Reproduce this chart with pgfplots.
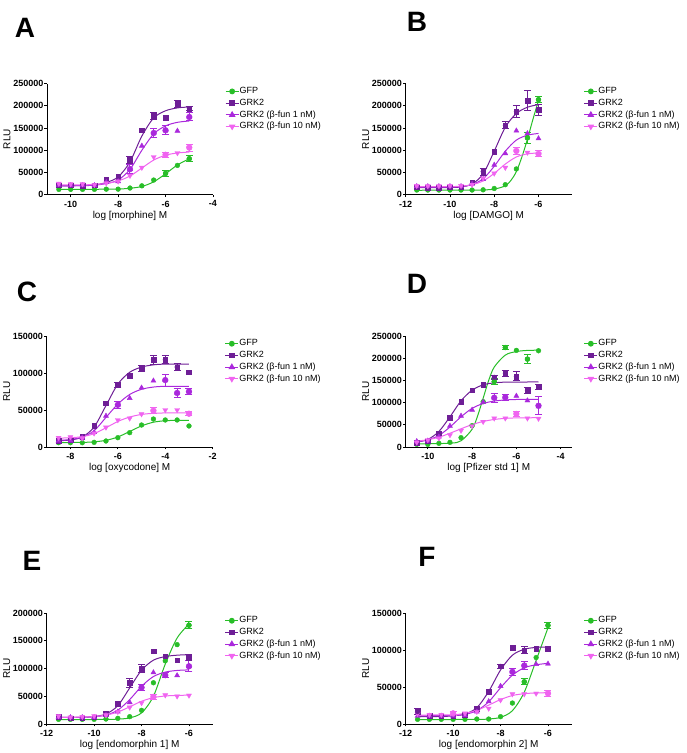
\documentclass[border=0pt]{standalone}
\usepackage{fontspec}
\setmainfont{Liberation Sans}
\usepackage{pgfplots}
\pgfplotsset{compat=1.18}

\definecolor{cGFP}{RGB}{40,190,40}
\definecolor{cGRK}{RGB}{110,30,150}
\definecolor{cB1}{RGB}{170,40,220}
\definecolor{cB10}{RGB}{240,100,240}

\pgfplotsset{
  gp/.style={
    scale only axis, width=166pt, height=111pt,
    axis lines=left, axis line style={-, line width=0.8pt},
    tick align=outside, major tick length=2.5pt,
    tick style={black, line width=0.8pt},
    scaled y ticks=false, clip=false,
    ticklabel style={font=\fontsize{9}{10}\selectfont\bfseries},
    /pgf/number format/assume math mode=true,
    yticklabel style={inner sep=1pt, /pgf/number format/.cd, fixed, 1000 sep={}},
    label style={font=\fontsize{9}{10}\selectfont\bfseries},
    ylabel={RLU},
    every axis y label/.style={at={(axis description cs:-0.241,0.5)}, rotate=90, anchor=center},
    every axis x label/.style={at={(axis description cs:0.5,-0.189)}, anchor=center},
    legend style={draw=none, fill=none, at={(1.072,0.975)}, anchor=north west,
      inner sep=0pt, row sep=2.2pt, font=\fontsize{9}{10}\selectfont,
      nodes={inner sep=0.5pt, text height=6.5pt, text depth=2pt}},
    legend cell align=left,
    legend image code/.code={\draw[mark repeat=2,mark phase=2,##1] plot coordinates {(0pt,0pt) (6.5pt,0pt) (13pt,0pt)};},
  },
  sGFP/.style={color=cGFP, mark=*, mark size=2.4pt},
  sGRK/.style={color=cGRK, mark=square*, mark size=2.3pt},
  sB1/.style={color=cB1, mark=triangle*, mark size=2.9pt},
  sB10/.style={color=cB10, mark=triangle*, mark size=2.9pt, mark options={rotate=180}},
  fit/.style={smooth, no markers, line width=1pt, forget plot},
  pts/.style={only marks, forget plot},
  eb/.style={only marks, mark=none, forget plot, error bars/.cd, y dir=both, y explicit,
    error bar style={line width=1pt, solid}, error mark options={rotate=90, mark size=3.5pt, line width=1pt}},
}

\newcommand{\legs}{%
  \addlegendimage{sGFP,line width=1pt}\addlegendentry{GFP}
  \addlegendimage{sGRK,line width=1pt}\addlegendentry{GRK2}
  \addlegendimage{sB1,line width=1pt}\addlegendentry{GRK2 (β-fun 1 nM)}
  \addlegendimage{sB10,line width=1pt}\addlegendentry{GRK2 (β-fun 10 nM)}}

\begin{document}
\begin{tikzpicture}
\path[use as bounding box] (0,0) rectangle (687pt,753pt);

\node[font=\fontsize{28}{30}\selectfont\bfseries] at (25pt,725pt) {A};
\node[font=\fontsize{28}{30}\selectfont\bfseries] at (417pt,731pt) {B};
\node[font=\fontsize{28}{30}\selectfont\bfseries] at (27pt,461pt) {C};
\node[font=\fontsize{28}{30}\selectfont\bfseries] at (417pt,469pt) {D};
\node[font=\fontsize{28}{30}\selectfont\bfseries] at (32pt,192pt) {E};
\node[font=\fontsize{28}{30}\selectfont\bfseries] at (427pt,196pt) {F};

% ---------------- A: morphine
\begin{axis}[gp, at={(47pt,558.3pt)}, anchor=south west,
  xmin=-11, xmax=-4, xtick={-10,-8,-6,-4},
  ymin=0, ymax=250000, ytick={0,50000,100000,150000,200000,250000},
  xlabel={log [morphine] M}]
\legs
\addplot[sGFP, fit] coordinates {(-10.5,12000) (-9,12200) (-8,12800) (-7.5,14500) (-7,18500) (-6.5,29000) (-6,47000) (-5.5,67000) (-5,81000)};
\addplot[sGRK, fit] coordinates {(-10.5,20000) (-9.5,20500) (-9,22000) (-8.5,27500) (-8,40000) (-7.5,74000) (-7,132000) (-6.5,173000) (-6,189000) (-5.5,195500) (-5,197500)};
\addplot[sB1, fit] coordinates {(-10.5,20000) (-9.5,20300) (-9,21500) (-8.5,25000) (-8,33000) (-7.5,57000) (-7,100000) (-6.5,137000) (-6,155000) (-5.5,163000) (-5,166000)};
\addplot[sB10, fit] coordinates {(-10.5,22000) (-9.5,22200) (-9,23000) (-8.5,25500) (-8,31000) (-7.5,42000) (-7,60000) (-6.5,78000) (-6,89000) (-5.5,94000) (-5,96000)};
\addplot[sGFP, pts] coordinates {(-10.5,12000) (-10,12000) (-9.5,12000) (-9,12000) (-8.5,12500) (-8,12500) (-7.5,15000) (-7,20000) (-6.5,33000) (-6,48000) (-5.5,66000) (-5,81000)};
\addplot[sGRK, pts] coordinates {(-10.5,21700) (-10,21000) (-9.5,20500) (-9,21000) (-8.5,34000) (-8,40000) (-7.5,79000) (-7,145000) (-6.5,178000) (-6,173600) (-5.5,205000) (-5,194000)};
\addplot[sB1, pts] coordinates {(-10.5,21700) (-10,21000) (-9.5,21000) (-9,21000) (-8.5,28000) (-8,30000) (-7.5,57600) (-7,110000) (-6.5,139000) (-6,145000) (-5.5,143700) (-5,175000)};
\addplot[sB10, pts] coordinates {(-10.5,25000) (-10,24000) (-9.5,24000) (-9,22400) (-8.5,26000) (-8,30000) (-7.5,43000) (-7,61000) (-6.5,85000) (-6,90000) (-5.5,94000) (-5,106000)};
\addplot[sGFP, eb] coordinates {(-6,48000) +- (0,7000) (-5,81000) +- (0,6500)};
\addplot[sGRK, eb] coordinates {(-7.5,79000) +- (0,8000) (-6.5,178000) +- (0,8000) (-5.5,205000) +- (0,8000) (-5,194000) +- (0,4000)};
\addplot[sB1, eb] coordinates {(-7.5,57600) +- (0,10000) (-6.5,139000) +- (0,10000) (-6,145000) +- (0,10000) (-5,175000) +- (0,9000)};
\addplot[sB10, eb] coordinates {(-6,90000) +- (0,6000) (-5,106000) +- (0,8000)};
\end{axis}

% ---------------- B: DAMGO
\begin{axis}[gp, at={(405.7pt,558.3pt)}, anchor=south west,
  xmin=-12, xmax=-4.5, xtick={-12,-10,-8,-6},
  ymin=0, ymax=250000, ytick={0,50000,100000,150000,200000,250000},
  xlabel={log [DAMGO] M}]
\legs
\addplot[sGFP, fit] coordinates {(-11.5,10000) (-9,10200) (-8.5,10700) (-8,12500) (-7.5,20000) (-7.25,32000) (-7,52000) (-6.75,85000) (-6.5,125000) (-6.25,170000) (-6,212000)};
\addplot[sGRK, fit] coordinates {(-11.5,16000) (-10,16200) (-9.5,17500) (-9,24000) (-8.5,47000) (-8,98000) (-7.5,152000) (-7,183000) (-6.5,197000) (-6,203000)};
\addplot[sB1, fit] coordinates {(-11.5,17000) (-10,17200) (-9.5,18500) (-9,23000) (-8.5,36000) (-8,64000) (-7.5,98000) (-7,123000) (-6.5,134000) (-6,138000)};
\addplot[sB10, fit] coordinates {(-11.5,18000) (-10,18200) (-9.5,19200) (-9,22500) (-8.5,31000) (-8,48000) (-7.5,69000) (-7,85000) (-6.5,92000) (-6,94000)};
\addplot[sGFP, pts] coordinates {(-11.5,10500) (-11,10500) (-10.5,10500) (-10,10500) (-9.5,10500) (-9,10500) (-8.5,11000) (-8,14000) (-7.5,22600) (-7,58000) (-6.5,128000) (-6,214000)};
\addplot[sGRK, pts] coordinates {(-11.5,17000) (-11,15800) (-10.5,15800) (-10,17000) (-9.5,17000) (-9,28000) (-8.5,52000) (-8,97000) (-7.5,156000) (-7,187500) (-6.5,211600) (-6,191000)};
\addplot[sB1, pts] coordinates {(-11.5,18800) (-11,18800) (-10.5,18800) (-10,18800) (-9.5,18800) (-9,24000) (-8.5,35000) (-8,67000) (-7.5,93000) (-7,144000) (-6.5,138000) (-6,126500)};
\addplot[sB10, pts] coordinates {(-11.5,20000) (-11,19500) (-10.5,19500) (-10,20000) (-9.5,20000) (-9,22600) (-8.5,37000) (-8,48000) (-7.5,61000) (-7,98600) (-6.5,95000) (-6,92000)};
\addplot[sGFP, eb] coordinates {(-6.5,128000) +- (0,12000) (-6,214000) +- (0,7000)};
\addplot[sGRK, eb] coordinates {(-8.5,52000) +- (0,8000) (-7.5,156000) +- (0,8000) (-7,187500) +- (0,13000) (-6.5,211600) +- (0,22000) (-6,191000) +- (0,12000)};
\addplot[sB10, eb] coordinates {(-7,98600) +- (0,7000) (-6,92000) +- (0,7000)};
\end{axis}

% ---------------- C: oxycodone
\begin{axis}[gp, at={(46.7pt,306pt)}, anchor=south west,
  xmin=-9, xmax=-2, xtick={-8,-6,-4,-2},
  ymin=0, ymax=150000, ytick={0,50000,100000,150000},
  xlabel={log [oxycodone] M}]
\legs
\addplot[sGFP, fit] coordinates {(-8.5,6000) (-7.5,6200) (-7,7000) (-6.5,9000) (-6,13500) (-5.5,21000) (-5,28500) (-4.5,33500) (-4,35500) (-3.5,36000) (-3,36000)};
\addplot[sGRK, fit] coordinates {(-8.5,8500) (-8,9500) (-7.5,13500) (-7,27000) (-6.5,56000) (-6,85000) (-5.5,101000) (-5,108000) (-4.5,111000) (-4,112000) (-3,112000)};
\addplot[sB1, fit] coordinates {(-8.5,9000) (-8,10000) (-7.5,13500) (-7,22000) (-6.5,40000) (-6,58000) (-5.5,71000) (-5,78000) (-4.5,81000) (-4,82000) (-3,82000)};
\addplot[sB10, fit] coordinates {(-8.5,12000) (-8,12500) (-7.5,14000) (-7,18000) (-6.5,26000) (-6,34500) (-5.5,40500) (-5,44000) (-4.5,45500) (-4,46000) (-3,46000)};
\addplot[sGFP, pts] coordinates {(-8.5,5800) (-8,5800) (-7.5,5800) (-7,6300) (-6.5,8100) (-6,12600) (-5.5,19400) (-5,29700) (-4.5,37800) (-4,36500) (-3.5,36500) (-3,28400)};
\addplot[sGRK, pts] coordinates {(-8.5,8500) (-8,9000) (-7.5,14000) (-7,29000) (-6.5,59400) (-6,84000) (-5.5,96000) (-5,106000) (-4.5,118000) (-4,118000) (-3.5,108000) (-3,101000)};
\addplot[sB1, pts] coordinates {(-8.5,8100) (-8,8500) (-7.5,12600) (-7,19800) (-6.5,42000) (-6,57000) (-5.5,66000) (-5,80000) (-4.5,89500) (-4,90400) (-3.5,73000) (-3,75000)};
\addplot[sB10, pts] coordinates {(-8.5,12600) (-8,13500) (-7.5,12000) (-7,18500) (-6.5,26500) (-6,36500) (-5.5,38700) (-5,44500) (-4.5,49000) (-4,50000) (-3.5,50000) (-3,45000)};
\addplot[sGRK, eb] coordinates {(-6,84000) +- (0,3000) (-5,106000) +- (0,4000) (-4.5,118000) +- (0,6000) (-4,118000) +- (0,5000) (-3.5,108000) +- (0,5000)};
\addplot[sB1, eb] coordinates {(-6,57000) +- (0,5000) (-4,90400) +- (0,8000) (-3.5,73000) +- (0,6000) (-3,75000) +- (0,3500)};
\addplot[sB10, eb] coordinates {(-4.5,49000) +- (0,4000) (-3,45000) +- (0,3000)};
\end{axis}

% ---------------- D: Pfizer std 1
\begin{axis}[gp, at={(405.7pt,306pt)}, anchor=south west,
  xmin=-11, xmax=-3.5, xtick={-10,-8,-6,-4},
  ymin=0, ymax=250000, ytick={0,50000,100000,150000,200000,250000},
  xlabel={log [Pfizer std 1] M}]
\legs
\addplot[sGFP, fit] coordinates {(-10.5,7000) (-9,8500) (-8.5,14000) (-8,40000) (-7.75,70000) (-7.5,110000) (-7.25,150000) (-7,180000) (-6.5,207000) (-6,215000) (-5.5,217500) (-5,218000)};
\addplot[sGRK, fit] coordinates {(-10.5,11000) (-10,17000) (-9.5,35000) (-9,68000) (-8.5,104000) (-8,128000) (-7.5,140000) (-7,144500) (-6.5,146000) (-5,146500)};
\addplot[sB1, fit] coordinates {(-10.5,12000) (-10,16000) (-9.5,26000) (-9,45000) (-8.5,68000) (-8,87000) (-7.5,98000) (-7,103500) (-6.5,106000) (-6,107000) (-5,107000)};
\addplot[sB10, fit] coordinates {(-10.5,13000) (-10,16500) (-9.5,22000) (-9,31000) (-8.5,41000) (-8,50500) (-7.5,57500) (-7,62000) (-6.5,64500) (-6,65500) (-5,66000)};
\addplot[sGFP, pts] coordinates {(-10.5,6000) (-10,6000) (-9.5,8300) (-9,10500) (-8.5,21000) (-8,48000) (-7.5,102000) (-7,147600) (-6.5,224000) (-6,217600) (-5.5,198000) (-5,216800)};
\addplot[sGRK, pts] coordinates {(-10.5,10000) (-10,13500) (-9.5,31000) (-9,66000) (-8.5,101600) (-8,128000) (-7.5,140000) (-7,157000) (-6.5,166000) (-6,159000) (-5.5,127000) (-5,135000)};
\addplot[sB1, pts] coordinates {(-10.5,12800) (-10,14000) (-9.5,23000) (-9,47400) (-8.5,70000) (-8,83600) (-7.5,101000) (-7,111000) (-6.5,112000) (-6,115000) (-5.5,104600) (-5,91000)};
\addplot[sB10, pts] coordinates {(-10.5,10500) (-10,15800) (-9.5,19600) (-9,27000) (-8.5,37000) (-8,47400) (-7.5,57000) (-7,64700) (-6.5,64700) (-6,74500) (-5.5,64700) (-5,64000)};
\addplot[sGFP, eb] coordinates {(-7,147600) +- (0,7000) (-6.5,224000) +- (0,5000) (-5.5,198000) +- (0,10000)};
\addplot[sGRK, eb] coordinates {(-7,157000) +- (0,5000) (-6.5,166000) +- (0,7000) (-6,159000) +- (0,10000) (-5.5,127000) +- (0,7000) (-5,135000) +- (0,5000)};
\addplot[sB1, eb] coordinates {(-7,111000) +- (0,10000) (-6.5,112000) +- (0,7000) (-5,93000) +- (0,20000)};
\addplot[sB10, eb] coordinates {(-6,74500) +- (0,5000)};
\end{axis}

% ---------------- E: endomorphin 1
\begin{axis}[gp, at={(46.7pt,29pt)}, anchor=south west,
  xmin=-12, xmax=-5, xtick={-12,-10,-8,-6},
  ymin=0, ymax=200000, ytick={0,50000,100000,150000,200000},
  xlabel={log [endomorphin 1] M}]
\legs
\addplot[sGFP, fit] coordinates {(-11.5,8000) (-9.5,8200) (-9,8800) (-8.5,11000) (-8,20000) (-7.5,50000) (-7,108000) (-6.5,155000) (-6,180000)};
\addplot[sGRK, fit] coordinates {(-11.5,12000) (-10.5,12200) (-10,13500) (-9.5,18000) (-9,33000) (-8.5,65000) (-8,97000) (-7.5,115000) (-7,121500) (-6.5,124000) (-6,125000)};
\addplot[sB1, fit] coordinates {(-11.5,12000) (-10.5,12200) (-10,13000) (-9.5,16000) (-9,25000) (-8.5,44000) (-8,68000) (-7.5,85500) (-7,93500) (-6.5,96500) (-6,97500)};
\addplot[sB10, fit] coordinates {(-11.5,12000) (-10.5,12300) (-10,13500) (-9.5,16000) (-9,21500) (-8.5,31000) (-8,41000) (-7.5,47500) (-7,50500) (-6.5,51500) (-6,52000)};
\addplot[sGFP, pts] coordinates {(-11.5,8400) (-11,8400) (-10.5,8400) (-10,8400) (-9.5,9000) (-9,10200) (-8.5,13200) (-8,24600) (-7.5,74300) (-7,113800) (-6.5,143000) (-6,178000)};
\addplot[sGRK, pts] coordinates {(-11.5,13200) (-11,10800) (-10.5,11400) (-10,12000) (-9.5,18600) (-9,37000) (-8.5,74300) (-8,100000) (-7.5,131000) (-7,122000) (-6.5,115000) (-6,119800)};
\addplot[sB1, pts] coordinates {(-11.5,12000) (-11,12000) (-10.5,12000) (-10,12000) (-9.5,16000) (-9,22000) (-8.5,39000) (-8,65900) (-7.5,92800) (-7,88000) (-6.5,87500) (-6,104000)};
\addplot[sB10, pts] coordinates {(-11.5,14400) (-11,12000) (-10.5,13200) (-10,14400) (-9.5,16000) (-9,22000) (-8.5,30000) (-8,38000) (-7.5,49000) (-7,52000) (-6.5,50000) (-6,51500)};
\addplot[sGFP, eb] coordinates {(-6,178000) +- (0,6000)};
\addplot[sGRK, eb] coordinates {(-8.5,74300) +- (0,8000) (-8,100000) +- (0,8000) (-6,119800) +- (0,6000)};
\addplot[sB1, eb] coordinates {(-8,65900) +- (0,5000) (-7,88000) +- (0,5000) (-6,104000) +- (0,10000)};
\addplot[sB10, eb] coordinates {(-7.5,49000) +- (0,5000)};
\end{axis}

% ---------------- F: endomorphin 2
\begin{axis}[gp, at={(405.7pt,29pt)}, anchor=south west,
  xmin=-12, xmax=-5, xtick={-12,-10,-8,-6},
  ymin=0, ymax=150000, ytick={0,50000,100000,150000},
  xlabel={log [endomorphin 2] M}]
\legs
\addplot[sGFP, fit] coordinates {(-11.5,6000) (-9,6200) (-8.5,6800) (-8,9000) (-7.5,18000) (-7,43000) (-6.5,86000) (-6,130000)};
\addplot[sGRK, fit] coordinates {(-11.5,10000) (-10.5,10200) (-10,11000) (-9.5,13500) (-9,22000) (-8.5,44000) (-8,73000) (-7.5,93000) (-7,101000) (-6.5,103500) (-6,104000)};
\addplot[sB1, fit] coordinates {(-11.5,11000) (-10,11500) (-9.5,13000) (-9,18000) (-8.5,30000) (-8,49000) (-7.5,66000) (-7,76000) (-6.5,80000) (-6,82000)};
\addplot[sB10, fit] coordinates {(-11.5,12000) (-10,12600) (-9.5,14500) (-9,18500) (-8.5,25500) (-8,33000) (-7.5,38500) (-7,41000) (-6.5,42000) (-6,42300)};
\addplot[sGFP, pts] coordinates {(-11.5,6300) (-11,6300) (-10.5,6300) (-10,6300) (-9.5,6300) (-9,6700) (-8.5,6700) (-8,9900) (-7.5,28300) (-7,57000) (-6.5,89800) (-6,133300)};
\addplot[sGRK, pts] coordinates {(-11.5,16600) (-11,11200) (-10.5,10800) (-10,10800) (-9.5,12600) (-9,20600) (-8.5,43600) (-8,78000) (-7.5,102800) (-7,99700) (-6.5,101500) (-6,101500)};
\addplot[sB1, pts] coordinates {(-11.5,10800) (-11,10800) (-10.5,10800) (-10,10800) (-9.5,11700) (-9,16600) (-8.5,30500) (-8,51200) (-7.5,70500) (-7,79000) (-6.5,80800) (-6,81300)};
\addplot[sB10, pts] coordinates {(-11.5,14000) (-11,12600) (-10.5,12600) (-10,14400) (-9.5,14400) (-9,16600) (-8.5,21000) (-8,32300) (-7.5,40400) (-7,40400) (-6.5,41300) (-6,41300)};
\addplot[sGFP, eb] coordinates {(-7,57000) +- (0,4000) (-6,133300) +- (0,4000)};
\addplot[sGRK, eb] coordinates {(-11.5,16600) +- (0,4000) (-8,78000) +- (0,3000) (-7,99700) +- (0,5000)};
\addplot[sB1, eb] coordinates {(-7.5,70500) +- (0,5000) (-7,79000) +- (0,5000)};
\addplot[sB10, eb] coordinates {(-10,14400) +- (0,3000) (-6,41300) +- (0,4000)};
\end{axis}
\end{tikzpicture}
\end{document}
